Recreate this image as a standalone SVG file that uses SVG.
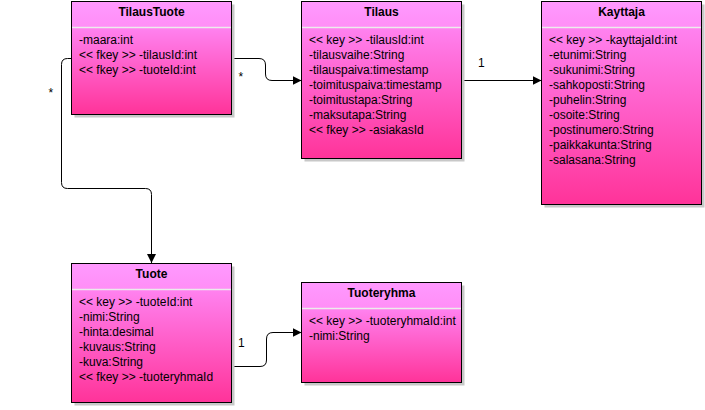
<svg xmlns="http://www.w3.org/2000/svg" width="705" height="410" viewBox="0 0 705 410">
<defs>
<linearGradient id="hdr" x1="0" y1="0" x2="0" y2="1">
<stop offset="0" stop-color="#ff99ff"/>
<stop offset="1" stop-color="#ff8ef6"/>
</linearGradient>
<linearGradient id="body" x1="0" y1="0" x2="0" y2="1">
<stop offset="0" stop-color="#ff82f0"/>
<stop offset="1" stop-color="#ff3399"/>
</linearGradient>
<marker id="arr" markerUnits="userSpaceOnUse" markerWidth="10" markerHeight="10" refX="9" refY="4.5" orient="auto">
<path d="M0,0 L9,4.5 L0,9 z" fill="#000"/>
</marker>
<style>
.shadow{fill:#c8c8c8}
.hdr{fill:url(#hdr)}
.body{fill:url(#body)}
.frame{fill:none;stroke:#000;stroke-width:1}
.sep{stroke:#ececec;stroke-width:1.5}
.title{font-family:"Liberation Sans",Arial,sans-serif;font-size:12px;font-weight:bold;fill:#000;text-anchor:middle}
.attr{font-family:"Liberation Sans",Arial,sans-serif;font-size:12px;fill:#000}
.lbl{font-family:"Liberation Sans",Arial,sans-serif;font-size:12px;fill:#000}
.conn{fill:none;stroke:#000;stroke-width:1}
</style>
</defs>
<rect width="705" height="410" fill="#fff"/>

<g id="connectors">
<path class="conn" d="M71.5 58.5 H67.5 Q61.5 58.5 61.5 64.5 V182.5 Q61.5 188.5 67.5 188.5 H145.5 Q151.5 188.5 151.5 194.5 V263" marker-end="url(#arr)"/>
<path class="conn" d="M231.5 58.5 H259 Q265.5 58.5 265.5 65 V74 Q265.5 80.5 272 80.5 H301.5" marker-end="url(#arr)"/>
<path class="conn" d="M461.5 80.5 H541.5" marker-end="url(#arr)"/>
<path class="conn" d="M231.5 366.5 H260 Q266.5 366.5 266.5 360 V339 Q266.5 332.5 273 332.5 H301.5" marker-end="url(#arr)"/>
<text class="lbl" x="48.5" y="97" font-size="10">*</text>
<text class="lbl" x="238.5" y="81" font-size="10">*</text>
<text class="lbl" x="478" y="67">1</text>
<text class="lbl" x="238" y="347">1</text>
</g>

<g id="TilausTuote">
<rect class="shadow" x="74.5" y="4.5" width="160" height="113"/>
<rect class="hdr" x="71.5" y="1.5" width="160" height="26"/>
<rect class="body" x="71.5" y="27.5" width="160" height="87"/>
<line class="sep" x1="72" y1="27.5" x2="231" y2="27.5"/>
<rect class="frame" x="71.5" y="1.5" width="160" height="113"/>
<text class="title" x="151.5" y="15.5">TilausTuote</text>
<text class="attr" x="79" y="44">-maara:int</text>
<text class="attr" x="79" y="59">&lt;&lt; fkey &gt;&gt; -tilausId:int</text>
<text class="attr" x="79" y="74">&lt;&lt; fkey &gt;&gt; -tuoteId:int</text>
</g>

<g id="Tilaus">
<rect class="shadow" x="304.5" y="4.5" width="160" height="157"/>
<rect class="hdr" x="301.5" y="1.5" width="160" height="26"/>
<rect class="body" x="301.5" y="27.5" width="160" height="131"/>
<line class="sep" x1="302" y1="27.5" x2="461" y2="27.5"/>
<rect class="frame" x="301.5" y="1.5" width="160" height="157"/>
<text class="title" x="381.5" y="15.5">Tilaus</text>
<text class="attr" x="309" y="44">&lt;&lt; key &gt;&gt; -tilausId:int</text>
<text class="attr" x="309" y="59">-tilausvaihe:String</text>
<text class="attr" x="309" y="74">-tilauspaiva:timestamp</text>
<text class="attr" x="309" y="89">-toimituspaiva:timestamp</text>
<text class="attr" x="309" y="104">-toimitustapa:String</text>
<text class="attr" x="309" y="119">-maksutapa:String</text>
<text class="attr" x="309" y="134">&lt;&lt; fkey &gt;&gt; -asiakasId</text>
</g>

<g id="Kayttaja">
<rect class="shadow" x="544.5" y="4.5" width="160" height="203"/>
<rect class="hdr" x="541.5" y="1.5" width="160" height="26"/>
<rect class="body" x="541.5" y="27.5" width="160" height="177"/>
<line class="sep" x1="542" y1="27.5" x2="701" y2="27.5"/>
<rect class="frame" x="541.5" y="1.5" width="160" height="203"/>
<text class="title" x="621.5" y="15.5">Kayttaja</text>
<text class="attr" x="549" y="44">&lt;&lt; key &gt;&gt; -kayttajaId:int</text>
<text class="attr" x="549" y="59">-etunimi:String</text>
<text class="attr" x="549" y="74">-sukunimi:String</text>
<text class="attr" x="549" y="89">-sahkoposti:String</text>
<text class="attr" x="549" y="104">-puhelin:String</text>
<text class="attr" x="549" y="119">-osoite:String</text>
<text class="attr" x="549" y="134">-postinumero:String</text>
<text class="attr" x="549" y="149">-paikkakunta:String</text>
<text class="attr" x="549" y="164">-salasana:String</text>
</g>

<g id="Tuote">
<rect class="shadow" x="74.5" y="266.5" width="160" height="139"/>
<rect class="hdr" x="71.5" y="263.5" width="160" height="26"/>
<rect class="body" x="71.5" y="289.5" width="160" height="113"/>
<line class="sep" x1="72" y1="289.5" x2="231" y2="289.5"/>
<rect class="frame" x="71.5" y="263.5" width="160" height="139"/>
<text class="title" x="151.5" y="277.5">Tuote</text>
<text class="attr" x="79" y="306">&lt;&lt; key &gt;&gt; -tuoteId:int</text>
<text class="attr" x="79" y="321">-nimi:String</text>
<text class="attr" x="79" y="336">-hinta:desimal</text>
<text class="attr" x="79" y="351">-kuvaus:String</text>
<text class="attr" x="79" y="366">-kuva:String</text>
<text class="attr" x="79" y="381">&lt;&lt; fkey &gt;&gt; -tuoteryhmaId</text>
</g>

<g id="Tuoteryhma">
<rect class="shadow" x="304.5" y="285.5" width="160" height="100"/>
<rect class="hdr" x="301.5" y="282.5" width="160" height="26"/>
<rect class="body" x="301.5" y="308.5" width="160" height="74"/>
<line class="sep" x1="302" y1="308.5" x2="461" y2="308.5"/>
<rect class="frame" x="301.5" y="282.5" width="160" height="100"/>
<text class="title" x="381.5" y="296.5">Tuoteryhma</text>
<text class="attr" x="309" y="325">&lt;&lt; key &gt;&gt; -tuoteryhmaId:int</text>
<text class="attr" x="309" y="340">-nimi:String</text>
</g>
</svg>
